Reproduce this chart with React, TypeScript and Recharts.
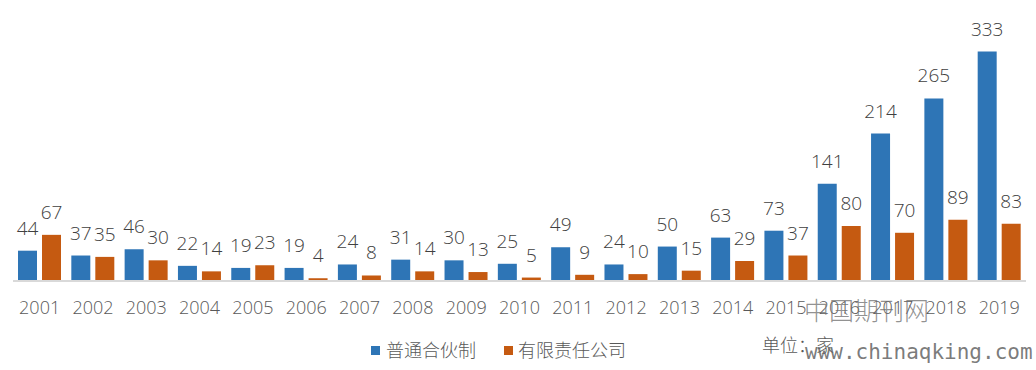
import { BarChart, Bar, XAxis, YAxis, LabelList } from 'recharts'

const years = ['2001', '2002', '2003', '2004', '2005', '2006', '2007', '2008', '2009', '2010',
  '2011', '2012', '2013', '2014', '2015', '2016', '2017', '2018', '2019']
const general = [44, 37, 46, 22, 19, 19, 24, 31, 30, 25, 49, 24, 50, 63, 73, 141, 214, 265, 333]
const limited = [67, 35, 30, 14, 23, 4, 8, 14, 13, 5, 9, 10, 15, 29, 37, 80, 70, 89, 83]

const BLUE = '#2e75b6'
const ORANGE = '#c55a11'
const FONT = '"Open Sans", "Noto Sans CJK SC", sans-serif'

const data = years.map((y, i) => ({ year: y, general: general[i], limited: limited[i] }))

export default function App() {
  return (
    <div style={{ position: 'absolute', left: 0, top: 0, width: 1036, height: 370, background: '#fff', fontFamily: FONT }}>
      <BarChart width={1036} height={370} data={data}
        margin={{ top: 33, right: 10, left: 13, bottom: 59 }}
        barCategoryGap={5} barGap={5}>
        <XAxis dataKey="year" height={30} tickLine={false} tickMargin={14}
          axisLine={{ stroke: '#d9d9d9', strokeWidth: 2 }}
          tick={{ fill: '#595959', fontSize: 18, fontFamily: FONT, fontWeight: 300 }} interval={0} />
        <YAxis hide domain={[0, 360]} />
        <Bar dataKey="general" fill={BLUE} isAnimationActive={false}>
          <LabelList dataKey="general" position="top" offset={16} fill="#404040" fontSize={19} fontFamily={FONT} fontWeight={300} />
        </Bar>
        <Bar dataKey="limited" fill={ORANGE} isAnimationActive={false}>
          <LabelList dataKey="limited" position="top" offset={16} fill="#404040" fontSize={19} fontFamily={FONT} fontWeight={300} />
        </Bar>
      </BarChart>
      <div style={{ position: 'absolute', left: 371, top: 346, width: 9, height: 9, background: BLUE }} />
      <div style={{ position: 'absolute', left: 386, top: 337, fontSize: 18, color: '#595959', lineHeight: '26px', whiteSpace: 'nowrap', fontWeight: 300 }}>普通合伙制</div>
      <div style={{ position: 'absolute', left: 504, top: 346, width: 9, height: 9, background: ORANGE }} />
      <div style={{ position: 'absolute', left: 518, top: 337, fontSize: 18, color: '#595959', lineHeight: '26px', whiteSpace: 'nowrap', fontWeight: 300 }}>有限责任公司</div>
      <div style={{ position: 'absolute', left: 762, top: 332, fontSize: 18, color: '#595959', lineHeight: '26px', whiteSpace: 'nowrap', fontWeight: 300 }}>单位：家</div>
      <div style={{ position: 'absolute', left: 804, top: 293, fontSize: 25, color: 'rgba(110,110,110,0.75)', lineHeight: '32px', whiteSpace: 'nowrap', fontFamily: '"Noto Sans CJK SC", sans-serif', fontWeight: 300 }}>中国期刊网</div>
      <div style={{ position: 'absolute', left: 805, top: 338, fontSize: 21, color: 'rgba(100,100,100,0.85)', lineHeight: '28px', whiteSpace: 'nowrap', fontFamily: '"DejaVu Sans Mono", monospace' }}>www.chinaqking.com</div>
    </div>
  )
}
